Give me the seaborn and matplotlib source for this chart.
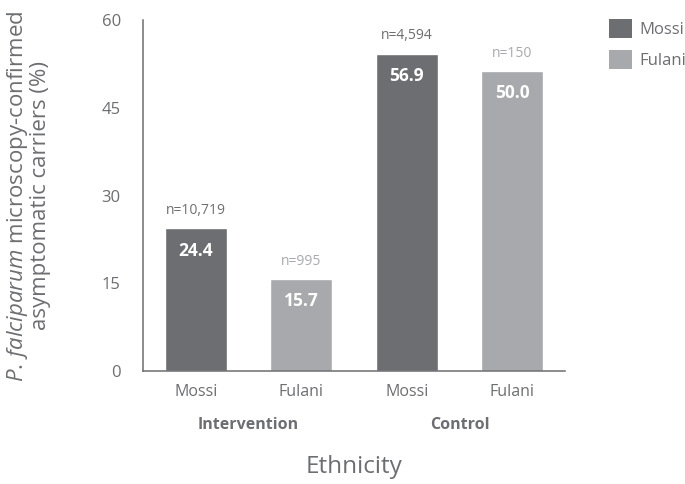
import matplotlib
matplotlib.use("Agg")
import matplotlib.pyplot as plt
from matplotlib.patches import Patch
import seaborn as sns
import pandas as pd

# ---- data ----
arms = ["Intervention", "Intervention", "Control", "Control"]
ethnicity = ["Mossi", "Fulani", "Mossi", "Fulani"]
bar_heights = [24.4, 15.7, 54.3, 51.3]          # drawn heights
value_labels = ["24.4", "15.7", "56.9", "50.0"]  # printed values
n_labels = ["n=10,719", "n=995", "n=4,594", "n=150"]
arm_names = ["Intervention", "Control"]
yticks = [0, 15, 30, 45, 60]

DARK = "#6d6e71"
LIGHT = "#a7a9ac"
TEXT = "#6d6e71"
palette = {"Mossi": DARK, "Fulani": LIGHT}

sns.set_theme(style="white")
plt.rcParams["font.family"] = ["Open Sans", "DejaVu Sans"]
plt.rcParams["mathtext.fontset"] = "custom"
plt.rcParams["mathtext.it"] = "Open Sans:italic"
plt.rcParams["mathtext.rm"] = "Open Sans"

cats = [f"{a} {e}" for a, e in zip(arms, ethnicity)]
df = pd.DataFrame({"cat": cats, "eth": ethnicity, "val": bar_heights})

fig = plt.figure(figsize=(6.85, 4.84), dpi=100)
ax = fig.add_axes([143/685, 1-371/484, (565-143)/685, (371-20.2)/484])

sns.barplot(data=df, x="cat", y="val", hue="eth", order=cats, palette=palette,
            dodge=False, width=0.586, saturation=1, legend=False, ax=ax)

ax.set_xlim(-0.5, 3.5)
ax.set_ylim(0, 60)
ax.set_yticks(yticks)
ax.set_yticklabels([str(t) for t in yticks])
sns.despine(ax=ax)
for s in ["left", "bottom"]:
    ax.spines[s].set_color(TEXT)
    ax.spines[s].set_linewidth(1.1)

ax.set_xticks([0, 1, 2, 3])
ax.set_xticklabels(ethnicity)
ax.set_xticks([-0.5, 0.5, 1.5, 2.5, 3.5], minor=True)
ax.tick_params(axis="x", which="major", length=0, pad=9, labelsize=11.5, labelcolor=TEXT)
ax.tick_params(axis="x", which="minor", length=10, width=1.1, color=TEXT, direction="out")
ax.tick_params(axis="y", length=10, width=1.1, color=TEXT, direction="out",
               pad=6, labelsize=12, labelcolor=TEXT)
ax.set_xlabel("")
ax.set_ylabel("")

# value labels and n labels
for i, (h, v, n) in enumerate(zip(bar_heights, value_labels, n_labels)):
    ax.text(i, h - 3.8, v, ha="center", va="center", color="white",
            fontsize=12.5, fontweight="bold")
    ncol = DARK if ethnicity[i] == "Mossi" else LIGHT
    ax.text(i, h + 3.0, n, ha="center", va="center", color=ncol, fontsize=10)

# arm labels
for j, name in enumerate(arm_names):
    ax.text(0.5 + 2*j, -9.2, name, ha="center", va="center", color=TEXT,
            fontsize=11.5, fontweight="bold")

fig.text(354/685, 1-467/484, "Ethnicity", ha="center", va="center",
         color=TEXT, fontsize=17.5)
fig.text(28/685, 1-196/484,
         r"$\it{P.\,falciparum}$ microscopy-confirmed" + "\n" + "asymptomatic carriers (%)",
         ha="center", va="center", rotation=90, color=TEXT, fontsize=16,
         linespacing=1.05)

handles = [Patch(facecolor=DARK, edgecolor="none", label="Mossi"),
           Patch(facecolor=LIGHT, edgecolor="none", label="Fulani")]
leg = fig.legend(handles=handles, loc="upper left",
                 bbox_to_anchor=(609/685, 1-19/484), bbox_transform=fig.transFigure,
                 frameon=False, fontsize=12, handlelength=1.38, handleheight=1.38,
                 labelspacing=0.72, handletextpad=0.45, borderpad=0, borderaxespad=0)
for t in leg.get_texts():
    t.set_color(TEXT)

fig.savefig("out.png", dpi=100)
